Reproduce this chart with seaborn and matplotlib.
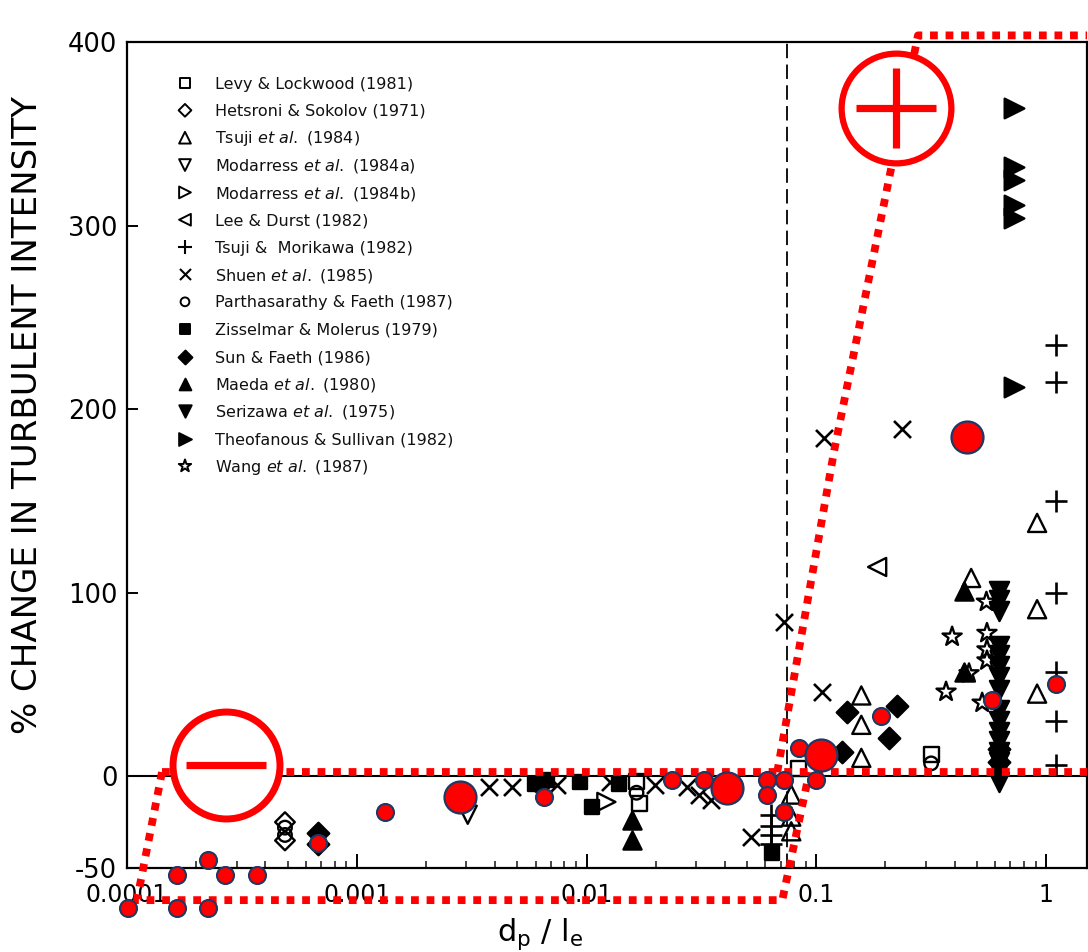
import matplotlib
matplotlib.use("Agg")
import matplotlib.pyplot as plt
import seaborn as sns

# ---------------- data ----------------
levy_x = [0.0165, 0.017, 0.084, 0.316]
levy_y = [-3, -15, 4, 12]
hetsroni_x = [4.87e-4, 4.87e-4]
hetsroni_y = [-25, -35]
tsuji84_x = [0.0778, 0.0778, 0.0778, 0.157, 0.157, 0.157, 0.472, 0.914, 0.914, 0.914]
tsuji84_y = [-10, -22, -30, 44, 28, 10, 108, 138, 91, 45]
modarress_a_x = [0.00304]
modarress_a_y = [-21]
modarress_b_x = [0.0122]
modarress_b_y = [-14]
lee_x = [0.184]
lee_y = [114]
tsujimori_x = [0.0637, 0.0637, 0.0637, 0.0637, 1.104, 1.104, 1.104, 1.104, 1.104, 1.104, 1.104]
tsujimori_y = [-21, -27, -32, -37, 235, 215, 150, 100, 57, 30, 6]
shuen_x = [0.00378, 0.00472, 0.00741, 0.0126, 0.0198, 0.0275, 0.031, 0.0349, 0.0521,
           0.0726, 0.106, 0.108, 0.237]
shuen_y = [-6, -6, -5, -3, -5, -6, -10, -13, -33, 84, 46, 184, 189]
parth_x = [4.87e-4, 4.87e-4, 0.0165, 0.316]
parth_y = [-28, -32, -9, 7]
ziss_x = [0.00594, 0.00676, 0.00933, 0.01052, 0.0139, 0.0644]
ziss_y = [-4, -2, -3, -17, -4, -42]
sun_x = [6.76e-4, 6.76e-4, 0.00625, 0.1297, 0.1365, 0.2075, 0.225, 0.625, 0.625]
sun_y = [-31, -37, -5, 13, 35, 21, 38, 8, 15]
maeda_x = [0.0157, 0.0157, 0.44, 0.44]
maeda_y = [-24, -35, 101, 57]
seri_x = [0.625] * 16
seri_y = [101, 96, 90, 71, 66, 60, 54, 47, 36, 30, 24, 19, 13, 8, 3, -3]
theo_x = [0.726, 0.726, 0.726, 0.726, 0.726, 0.726]
theo_y = [364, 332, 325, 311, 304, 212]
wang_x = [0.367, 0.39, 0.462, 0.527, 0.55, 0.553, 0.553, 0.553]
wang_y = [46, 76, 56, 40, 95, 78, 69, 63]

red_small_x = [1.009e-4, 1.648e-4, 2.25e-4, 1.648e-4, 2.667e-4, 3.673e-4, 2.25e-4, 6.76e-4,
               1.324e-3, 6.56e-3, 0.02366, 0.0326, 0.0612, 0.0612, 0.0726, 0.0726, 0.0843,
               0.1, 0.192, 0.582, 1.104]
red_small_y = [-71.9, -71.9, -71.9, -53.9, -53.9, -53.9, -45.8, -36.5, -19.6, -11.4, -2.2,
               -2.2, -2.2, -10.3, -2.2, -19.6, 15.3, -2.2, 32.7, 41.4, 50]
red_big_x = [2.806e-3, 0.041, 0.1052, 0.454]
red_big_y = [-11.4, -6.5, 11.4, 185]

# red annotation outlines (data coordinates)
band_x = [1.42e-4, 1.507]
band_y = [2.2, 2.2]
minus_outline_x = [1.42e-4, 1.105e-4, 0.0711, 0.0933]
minus_outline_y = [2.2, -67.5, -67.5, 2.2]
plus_outline_x = [0.0676, 0.1197, 0.277, 1.507]
plus_outline_y = [2.2, 177.6, 403.6, 403.6]
minus_center_x, minus_center_y = [2.69e-4], [6.0]
plus_center_x, plus_center_y = [0.223], [363.8]
dashed_x = 0.0748

xtick_vals = [1e-4, 1e-3, 1e-2, 1e-1, 1]
xtick_labels = ["0.0001", "0.001", "0.01", "0.1", "1"]
ytick_vals = [-50, 0, 100, 200, 300, 400]
ytick_labels = ["-50", "0", "100", "200", "300", "400"]

ETAL = r"$\it{et\ al.}$"
series = [
    ("Levy & Lockwood (1981)", levy_x, levy_y, "s", False, 115),
    ("Hetsroni & Sokolov (1971)", hetsroni_x, hetsroni_y, "D", False, 100),
    ("Tsuji " + ETAL + " (1984)", tsuji84_x, tsuji84_y, "^", False, 170),
    ("Modarress " + ETAL + " (1984a)", modarress_a_x, modarress_a_y, "v", False, 170),
    ("Modarress " + ETAL + " (1984b)", modarress_b_x, modarress_b_y, ">", False, 170),
    ("Lee & Durst (1982)", lee_x, lee_y, "<", False, 170),
    ("Tsuji &  Morikawa (1982)", tsujimori_x, tsujimori_y, "+", True, 260),
    ("Shuen " + ETAL + " (1985)", shuen_x, shuen_y, "x", True, 150),
    ("Parthasarathy & Faeth (1987)", parth_x, parth_y, "o", False, 95),
    ("Zisselmar & Molerus (1979)", ziss_x, ziss_y, "s", True, 115),
    ("Sun & Faeth (1986)", sun_x, sun_y, "D", True, 120),
    ("Maeda " + ETAL + " (1980)", maeda_x, maeda_y, "^", True, 170),
    ("Serizawa " + ETAL + " (1975)", seri_x, seri_y, "v", True, 190),
    ("Theofanous & Sullivan (1982)", theo_x, theo_y, ">", True, 200),
    ("Wang " + ETAL + " (1987)", wang_x, wang_y, "*", False, 210),
]

# ---------------- figure ----------------
sns.set_theme(style="white")
plt.rcParams["font.family"] = ["DejaVu Sans"]
plt.rcParams["mathtext.fontset"] = "dejavusans"

fig = plt.figure(figsize=(10.88, 9.52), dpi=100)
ax = fig.add_axes([127 / 1088, 1 - 868 / 952, 960 / 1088, 826 / 952])
ax.set_xscale("log")

for label, xs, ys, mk, filled, size in series:
    if mk in ("+", "x"):
        sns.scatterplot(x=xs, y=ys, ax=ax, marker=mk, s=size, color="black",
                        linewidth=1.9, zorder=3, legend=False)
    else:
        sns.scatterplot(x=xs, y=ys, ax=ax, marker=mk, s=size, color="black",
                        facecolor="black" if filled else "none", edgecolor="black",
                        linewidth=1.7, zorder=3, legend=False)

ax.axhline(0, color="black", lw=1.5, zorder=2)
ax.axvline(dashed_x, color="black", lw=1.3, ls=(0, (8, 3.5)), zorder=2)

red = "#ff0000"
for xs, ys in [(band_x, band_y), (minus_outline_x, minus_outline_y),
               (plus_outline_x, plus_outline_y)]:
    ax.plot(xs, ys, color=red, lw=5.6, ls=(0, (1, 1)), clip_on=False, zorder=4)

# circled minus / plus signs
ax.plot(minus_center_x, minus_center_y, marker="o", ms=77, mfc="white", mec=red, mew=5,
        ls="none", clip_on=False, zorder=5)
ax.plot(minus_center_x, minus_center_y, marker="_", ms=57, mew=5.2, color=red,
        ls="none", clip_on=False, zorder=6)
ax.plot(plus_center_x, plus_center_y, marker="o", ms=79, mfc="white", mec=red, mew=4.5,
        ls="none", clip_on=False, zorder=5)
ax.plot(plus_center_x, plus_center_y, marker="+", ms=58, mew=5.2, color=red,
        ls="none", clip_on=False, zorder=6)

sns.scatterplot(x=red_small_x, y=red_small_y, ax=ax, s=150, color=red, edgecolor="#1f3864",
                linewidth=1.5, zorder=7, clip_on=False, legend=False)
sns.scatterplot(x=red_big_x, y=red_big_y, ax=ax, s=530, color=red, edgecolor="#1f3864",
                linewidth=1.6, zorder=7, clip_on=False, legend=False)

ax.set_xlim(1e-4, 1.507)
ax.set_ylim(-50, 400)
ax.set_xticks(xtick_vals, xtick_labels)
ax.set_yticks(ytick_vals, ytick_labels)
ax.xaxis.set_minor_locator(matplotlib.ticker.LogLocator(base=10, subs=range(2, 10), numticks=20))
ax.xaxis.set_minor_formatter(matplotlib.ticker.NullFormatter())
ax.tick_params(axis="x", which="major", direction="in", length=10, width=1.4,
               bottom=True, top=False, labelsize=17, pad=11, colors="black")
ax.tick_params(axis="x", which="minor", direction="in", length=5, width=1.2,
               bottom=True, top=False)
ax.tick_params(axis="y", which="major", direction="in", length=8, width=1.4,
               left=True, right=False, labelsize=18.5, pad=7, colors="black")
for sp in ax.spines.values():
    sp.set_color("black")
    sp.set_linewidth(1.6)
ax.grid(False)

ax.set_ylabel("% CHANGE IN TURBULENT INTENSITY", fontsize=24.5, color="black")
ax.yaxis.set_label_coords(-0.086, 0.548)
ax.set_xlabel(r"d$_{\mathregular{p}}$ / l$_{\mathregular{e}}$", fontsize=22, color="black")
ax.xaxis.set_label_coords(0.43, -0.058)

# key (placed row by row so that all rows are evenly spaced)
key_marker_x = 0.0604
key_text_x = 0.0917
key_top = 0.9504       # axes fraction of first row centre
key_step = 0.03312     # axes fraction between rows
for i, (label, xs, ys, mk, filled, size) in enumerate(series):
    yk = key_top - i * key_step
    if mk in ("+", "x"):
        ax.scatter([key_marker_x], [yk], transform=ax.transAxes, marker=mk, s=size * 0.42,
                   color="black", linewidths=1.5, zorder=8, clip_on=False)
    else:
        ax.scatter([key_marker_x], [yk], transform=ax.transAxes, marker=mk, s=size * 0.42,
                   facecolors="black" if filled else "none", edgecolors="black",
                   linewidths=1.4, zorder=8, clip_on=False)
    ax.text(key_text_x, yk - 0.0068, label, transform=ax.transAxes, fontsize=11.5,
            ha="left", va="baseline", color="#111111", zorder=8)

fig.savefig("out.png", dpi=100)
